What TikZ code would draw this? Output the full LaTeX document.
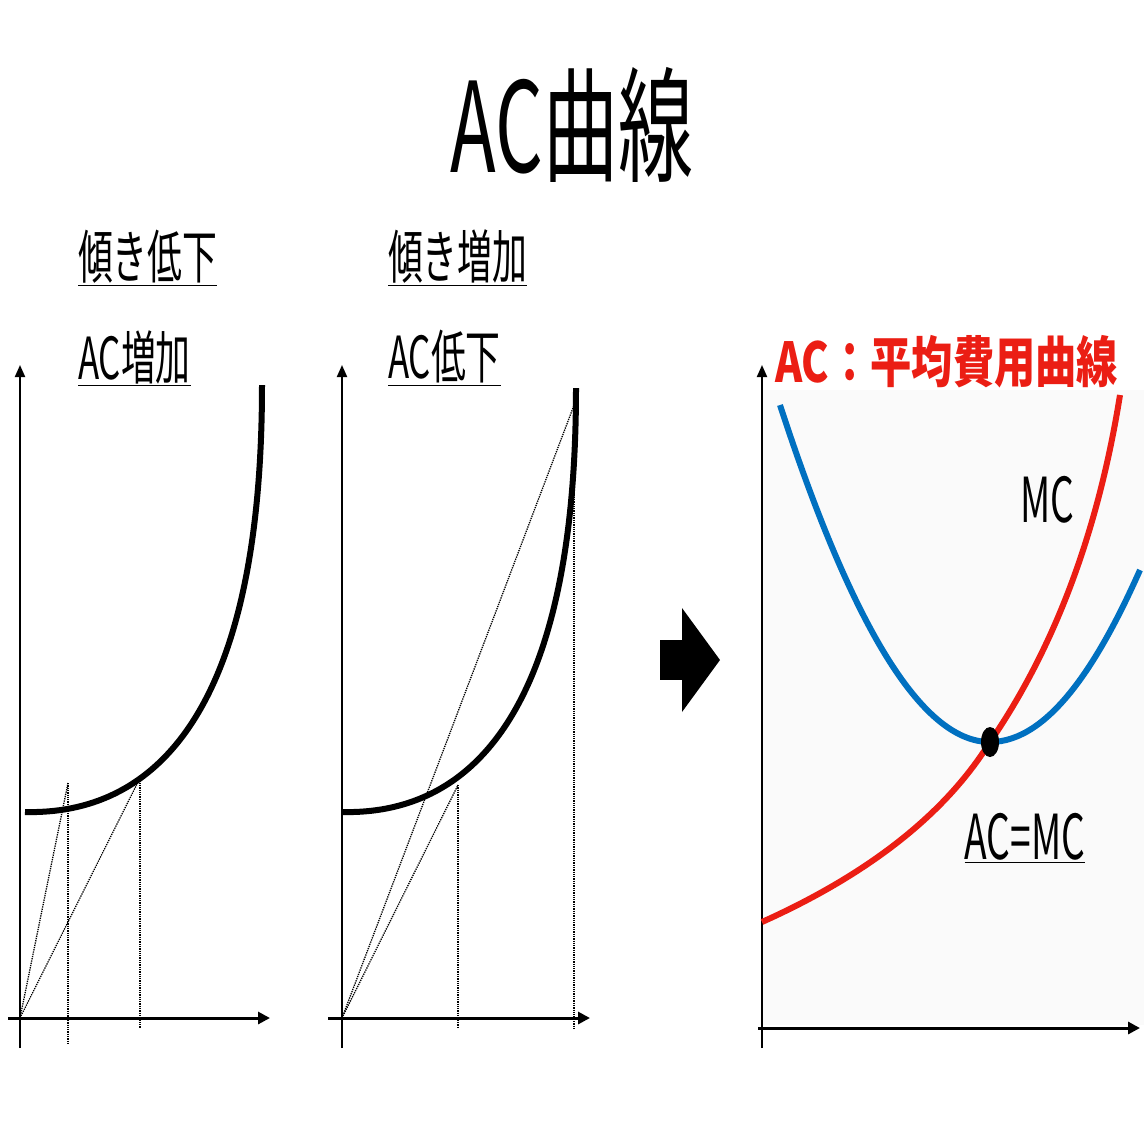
\documentclass[tikz,border=0pt]{standalone}
\usepackage{fontspec}
\setmainfont{Noto Sans CJK JP}
\usetikzlibrary{arrows.meta}
\begin{document}
\begin{tikzpicture}[x=1pt,y=-1pt,
  ax/.style={line width=3pt,-{Triangle[length=12pt,width=12pt]}},
  ax2/.style={line width=2pt,-{Triangle[length=12pt,width=10pt]}},
  dot/.style={line width=1.3pt,densely dotted},
  lbl/.style={font=\fontsize{58}{60}\selectfont,xscale=0.6,anchor=west,inner sep=0}]
\useasboundingbox (0,0) rectangle (1144,1144);
\fill[black!2] (762,390) rectangle (1144,1025);
\node (t) at (572,125) [font=\fontsize{125}{130}\selectfont,xscale=0.6] {AC曲線};
\node (l1) at (78,258) [lbl] {\underline{傾き低下}};
\node (l2) at (78,358) [lbl] {\underline{AC増加}};
\node (l3) at (388,258) [lbl] {\underline{傾き増加}};
\node (l4) at (388,358) [lbl] {\underline{AC低下}};
% left panel
\draw[ax2] (20,1048) -- (20,365);
\draw[ax] (8,1018) -- (270,1018);
\draw[line width=6pt] (25,812) .. controls (150,815) and (262,720) .. (262,385);
\draw[dot] (20,1018) -- (68,783);
\draw[dot] (20,1018) -- (140,778);
\draw[dot] (68,783) -- (68,1045);
\draw[dot] (140,778) -- (140,1028);
% middle panel
\draw[ax2] (342,1048) -- (342,365);
\draw[ax] (328,1018) -- (590,1018);
\draw[line width=6pt] (342,812) .. controls (466,815) and (576,720) .. (576,388);
\draw[dot] (342,1018) -- (458,785);
\draw[dot] (342,1018) -- (576,400);
\draw[dot] (458,785) -- (458,1028);
\draw[dot] (574,400) -- (574,1028);
% arrow
\fill (660,640) rectangle (683,680);
\fill (682,608) -- (720,660) -- (682,712) -- cycle;
% right panel
\draw[ax2] (762,1048) -- (762,365);
\draw[ax] (758,1028) -- (1140,1028);
\draw[line width=6pt,color={rgb,255:red,0;green,112;blue,192}] (780,405) .. controls (850,620) and (920,742) .. (990,742) .. controls (1050,742) and (1100,660) .. (1140,570);
\draw[line width=6pt,color={rgb,255:red,235;green,30;blue,20}] (762,922) .. controls (900,860) and (960,790) .. (990,742) .. controls (1060,640) and (1100,520) .. (1120,395);
\fill (990,742) ellipse (9 and 15);
\node (ac) at (775,362) [lbl,xscale=1.25,font=\fontsize{55}{60}\selectfont\bfseries,text={rgb,255:red,235;green,30;blue,20}] {AC：平均費用曲線};
\node (mc) at (1047,500) [font=\fontsize{62}{64}\selectfont,xscale=0.6] {MC};
\node (eq) at (1025,838) [font=\fontsize{62}{64}\selectfont,xscale=0.6] {\underline{AC=MC}};
\end{tikzpicture}
\end{document}
